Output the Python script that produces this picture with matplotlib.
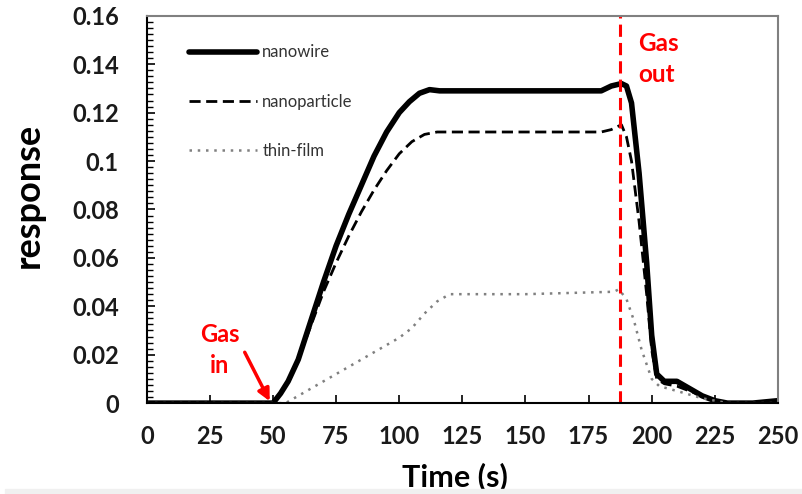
import matplotlib
matplotlib.use('Agg')
import matplotlib.pyplot as plt
from matplotlib.ticker import MultipleLocator, FuncFormatter
from matplotlib.patches import Rectangle

plt.rcParams['font.family'] = ['Lato', 'DejaVu Sans']

# readings from the reference plot (time in s, response)
t_wire = [0, 45, 50, 53, 56, 60, 65, 70, 75, 80, 85, 90, 95, 100, 104, 108, 112, 116, 120,
          150, 180, 184, 188, 190, 192, 195, 198, 200, 202, 205, 210, 215, 220, 225, 230, 240, 250]
r_wire = [0, 0, 0, 0.004, 0.009, 0.018, 0.034, 0.05, 0.065, 0.078, 0.09, 0.102, 0.112, 0.12, 0.1245, 0.128, 0.1295, 0.129, 0.129,
          0.129, 0.129, 0.131, 0.132, 0.131, 0.124, 0.095, 0.058, 0.028, 0.012, 0.009, 0.009, 0.006, 0.003, 0.001, 0, 0, 0.001]

t_part = [0, 45, 50, 53, 56, 60, 65, 70, 75, 80, 85, 90, 95, 100, 105, 110, 115, 120,
          150, 180, 184, 188, 190, 192, 195, 198, 200, 202, 205, 210, 215, 220, 225, 230, 240, 250]
r_part = [0, 0, 0, 0.004, 0.009, 0.018, 0.032, 0.046, 0.058, 0.069, 0.079, 0.088, 0.096, 0.103, 0.108, 0.111, 0.112, 0.112,
          0.112, 0.112, 0.113, 0.115, 0.11, 0.1, 0.075, 0.045, 0.022, 0.01, 0.008, 0.007, 0.005, 0.003, 0.001, 0, 0, 0.001]

t_film = [0, 50, 55, 60, 70, 80, 90, 100, 105, 110, 115, 120, 150, 185, 187, 190, 193, 196, 200, 203, 210, 220, 230, 250]
r_film = [0, 0, 0, 0.003, 0.009, 0.015, 0.021, 0.027, 0.031, 0.037, 0.042, 0.045, 0.045, 0.046, 0.047, 0.043, 0.034, 0.022, 0.01, 0.007, 0.005, 0.002, 0, 0]

gas_out = 187.5

fig = plt.figure(figsize=(8.02, 4.94), dpi=100)
fig.patches.append(Rectangle((0.006, 0), 0.994, 0.011, transform=fig.transFigure,
                             color='#f0f0f0', zorder=0))
ax = fig.add_axes([0.183, 0.184, 0.787, 0.784])

ax.plot(t_wire, r_wire, color='black', lw=4.0, label='nanowire', solid_capstyle='round',
        solid_joinstyle='round')
ax.plot(t_part, r_part, color='black', lw=2.0, ls=(0, (4, 2)), label='nanoparticle')
ax.plot(t_film, r_film, color='#808080', lw=1.8, ls=(0, (1, 2.3)), label='thin-film')

ax.axvline(gas_out, color='red', lw=2.2, ls=(0, (4, 2)))

ax.set_xlim(0, 250)
ax.set_ylim(0, 0.16)
ax.xaxis.set_major_locator(MultipleLocator(25))
ax.yaxis.set_major_locator(MultipleLocator(0.02))
ax.yaxis.set_minor_locator(MultipleLocator(0.0025))
ax.yaxis.set_major_formatter(FuncFormatter(lambda v, p: f'{v:g}'))
ax.tick_params(direction='in', labelsize=17, width=1.2, length=6)
ax.tick_params(axis='x', pad=16)
ax.tick_params(axis='y', pad=20)
ax.tick_params(axis='y', which='minor', direction='in', length=4, width=1)
for lab in ax.get_xticklabels() + ax.get_yticklabels():
    lab.set_fontweight('bold')
    lab.set_color('#1a1a1a')

ax.spines['left'].set_linewidth(1.5)
ax.spines['bottom'].set_linewidth(1.5)
for s in ['top', 'right']:
    ax.spines[s].set_color('#808080')
    ax.spines[s].set_linewidth(1.5)

ax.set_xlabel('Time (s)', fontsize=22, fontweight='bold')
ax.set_ylabel('response', fontsize=26, fontweight='bold')
ax.xaxis.set_label_coords(0.488, -0.152)
ax.yaxis.set_label_coords(-0.162, 0.537)

ax.text(194.5, 0.1535, 'Gas\nout', color='red', fontsize=17.5, fontweight='bold',
        ha='left', va='top', linespacing=1.45)
ax.text(29, 0.0219, 'Gas\nin', color='red', fontsize=17, fontweight='bold',
        ha='center', va='center', linespacing=1.45)
ax.annotate('', xy=(48.7, 0.0008), xytext=(38.8, 0.021),
            arrowprops=dict(arrowstyle='-|>', color='red', lw=2.5, mutation_scale=18,
                            shrinkA=0, shrinkB=0))

leg = ax.legend(loc='upper left', bbox_to_anchor=(0.043, 0.965), frameon=False, fontsize=12,
                handlelength=4.1, handletextpad=0.3, labelspacing=2.0)
for txt in leg.get_texts():
    txt.set_color('#333333')

fig.savefig('out.png', dpi=100)
